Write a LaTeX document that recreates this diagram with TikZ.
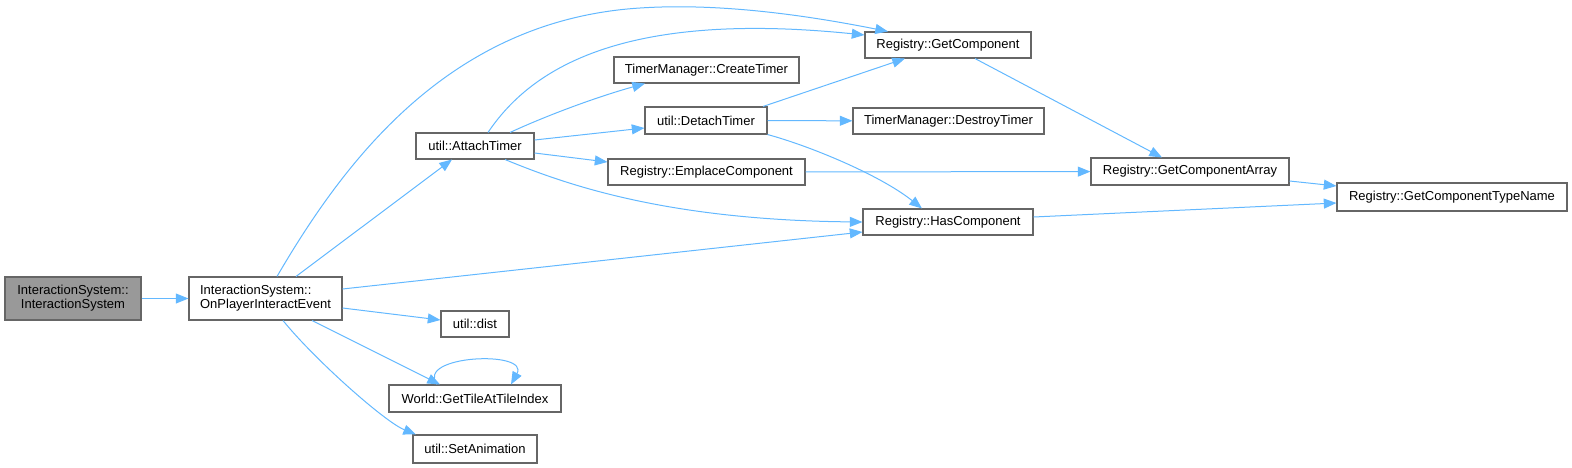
\documentclass[tikz,border=0pt]{standalone}
\usepackage{fontspec}
\setmainfont{Liberation Sans}
\usetikzlibrary{arrows.meta,positioning}
\definecolor{edgecolor}{RGB}{99,184,255}
\definecolor{boxcolor}{RGB}{102,102,102}
\definecolor{rootfill}{RGB}{153,153,153}

\begin{document}
\begin{tikzpicture}[x=0.75pt, y=-0.75pt,
    font=\fontsize{9.75}{10.5}\selectfont,
    fn/.style 2 args={draw=boxcolor, line width=0.8pt, fill=white, inner sep=0pt,
      minimum width=#1*0.75pt, minimum height=#2*0.75pt, align=center},
    edge/.style={edgecolor, line width=0.75pt, -{Triangle[length=9.5pt,width=7.5pt]}}]
    \useasboundingbox (0,0) rectangle (1572,468);
    % Root and direct caller
    \node[fn={136}{43}, fill=rootfill] (is) at (73,298.5) {InteractionSystem::\\InteractionSystem};
    \node[fn={153}{43}, align=left] (opie) at (265.5,298.5) {InteractionSystem::\\OnPlayerInteractEvent};
    % Second column
    \node[fn={118}{26}] (attach) at (475,146) {util::AttachTimer};
    \node[fn={68}{26}] (dist) at (475,324) {util::dist};
    \node[fn={172}{27}] (gettile) at (475,398.5) {World::GetTileAtTileIndex};
    \node[fn={124}{28}] (setanim) at (475,449) {util::SetAnimation};
    % Third column
    \node[fn={185}{26}] (create) at (706.5,70) {TimerManager::CreateTimer};
    \node[fn={122}{27}] (detach) at (706,120.5) {util::DetachTimer};
    \node[fn={197}{26}] (emplace) at (706.5,172) {Registry::EmplaceComponent};
    % Fourth column
    \node[fn={166}{26}] (getcomp) at (948,45) {Registry::GetComponent};
    \node[fn={191}{26}] (destroy) at (948.5,121) {TimerManager::DestroyTimer};
    \node[fn={170}{26}] (hascomp) at (948,222) {Registry::HasComponent};
    % Last two columns
    \node[fn={198}{27}] (comparr) at (1190,171.5) {Registry::GetComponentArray};
    \node[fn={230}{28}] (typename) at (1452,197) {Registry::GetComponentTypeName};

    % Calls from the root
    \draw[edge] (is) -- (opie);
    % Calls from OnPlayerInteractEvent
    \draw[edge] (opie.north -| 296,0) -- (attach.south -| 452,0);
    \draw[edge] (opie.north -| 277,0) .. controls (345,160) and (450,20) .. (640,8)
      .. controls (716,3) and (800,14) .. (getcomp.north -| 888,0);
    \draw[edge] (opie.east |- 0,289) -- (hascomp.west |- 0,232);
    \draw[edge] (opie.east |- 0,308) -- (dist.west |- 0,320);
    \draw[edge] (opie.south -| 312,0) -- (gettile.north -| 440,0);
    \draw[edge] (opie.south -| 283,0) .. controls (315,360) and (385,422) .. (setanim.north -| 416,0);
    % Calls from AttachTimer
    \draw[edge] (attach.north -| 488,0) .. controls (530,70) and (620,10) .. (getcomp.west |- 0,35);
    \draw[edge] (attach.north -| 510,0) .. controls (550,114) and (600,96) .. (create.south -| 645,0);
    \draw[edge] (attach.east |- 0,140) -- (detach.west |- 0,128);
    \draw[edge] (attach.east |- 0,153) -- (emplace.west |- 0,162);
    \draw[edge] (attach.south -| 505,0) .. controls (560,182) and (660,220) .. (hascomp.west |- 0,222);
    % Calls from DetachTimer
    \draw[edge] (detach.north -| 763,0) -- (getcomp.south -| 905,0);
    \draw[edge] (detach) -- (destroy);
    \draw[edge] (detach.south east) .. controls (810,146) and (880,175) .. (hascomp.north -| 922,0);
    % Registry internals
    \draw[edge] (emplace) -- (comparr);
    \draw[edge] (getcomp.south -| 975,0) -- (comparr.north -| 1162,0);
    \draw[edge] (comparr.east |- 0,181) -- (typename.west |- 0,186);
    \draw[edge] (hascomp.east |- 0,217) -- (typename.west |- 0,203);
    % Recursive call
    \draw[edge] (gettile.north -| 437,0) .. controls (415,355) and (530,350) .. (gettile.north -| 511,0);
\end{tikzpicture}
\end{document}
